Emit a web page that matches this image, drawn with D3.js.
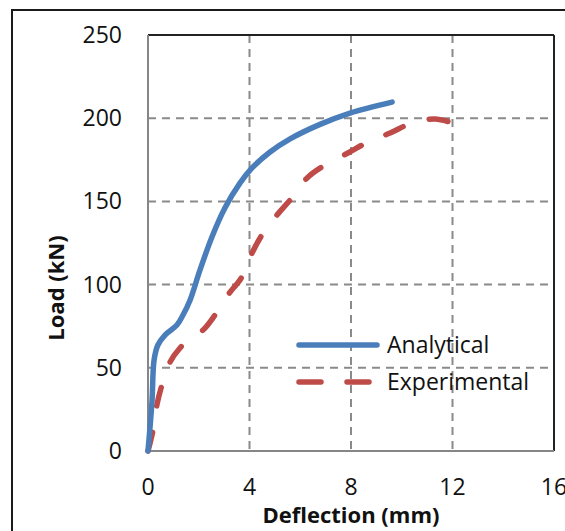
<!DOCTYPE html>
<html><head><meta charset="utf-8">
<script src="https://cdn.jsdelivr.net/npm/d3@7"></script>
<style>html,body{margin:0;padding:0;background:#fff;}svg{display:block;}</style>
</head><body>
<svg id="chart" width="565" height="531"></svg>
<script>
const analyticalX = [0, 0.08, 0.16, 0.24, 0.39, 0.67, 1.14, 1.38, 1.66, 2.05, 2.52, 3.03, 3.63, 4.10, 4.81, 5.60, 6.78, 7.96, 9.62];
const analyticalY = [0, 14.4, 30.6, 54.7, 63.7, 69.7, 75.7, 81.7, 90.8, 108.8, 128.6, 146.0, 161.1, 170.1, 179.7, 187.6, 196.3, 203.1, 209.7];
const experimentalX = [0, 0.20, 0.35, 0.55, 0.87, 1.26, 1.73, 2.17, 2.64, 3.15, 3.70, 4.10, 4.49, 5.08, 5.67, 6.27, 6.98, 7.88, 8.67, 9.54, 10.40, 11.31, 12.02];
const experimentalY = [0, 12.6, 27.6, 39.7, 53.5, 61.9, 68.5, 72.7, 81.7, 93.8, 104.6, 119.0, 129.8, 141.8, 152.1, 164.1, 171.9, 179.1, 185.7, 191.1, 197.1, 199.5, 197.1];
const xTicks = [0, 4, 8, 12, 16];
const yTicks = [0, 50, 100, 150, 200, 250];
const seriesNames = ["Analytical", "Experimental"];
const xTitle = "Deflection (mm)";
const yTitle = "Load (kN)";

const svg = d3.select("#chart");
const font = "'Open Sans', sans-serif";
const x = d3.scaleLinear().domain([0, 16]).range([148, 554]);
const y = d3.scaleLinear().domain([0, 250]).range([451, 35]);

// outer frame
svg.append("path").attr("d", "M12,531 L12,10 L565,10").attr("fill", "none").attr("stroke", "#1a1a1a").attr("stroke-width", 2);

// grid
const grid = svg.append("g").attr("stroke", "#8a8a8a").attr("stroke-width", 2).attr("stroke-dasharray", "8,6");
grid.selectAll("line.h").data(yTicks.filter(v => v > 0 && v < 250)).join("line")
  .attr("x1", x(0)).attr("x2", x(16)).attr("y1", d => y(d)).attr("y2", d => y(d));
grid.selectAll("line.v").data(xTicks.filter(v => v > 0 && v < 16)).join("line")
  .attr("y1", y(250)).attr("y2", y(0)).attr("x1", d => x(d)).attr("x2", d => x(d));

// plot borders
svg.append("line").attr("x1", x(0)).attr("x2", x(16)).attr("y1", y(250)).attr("y2", y(250)).attr("stroke", "#222").attr("stroke-width", 2);
svg.append("line").attr("x1", x(16)).attr("x2", x(16)).attr("y1", y(250)).attr("y2", y(0)).attr("stroke", "#222").attr("stroke-width", 2);
svg.append("line").attr("x1", x(0)).attr("x2", x(16)).attr("y1", y(0)).attr("y2", y(0)).attr("stroke", "#868686").attr("stroke-width", 2);
svg.append("line").attr("x1", x(0)).attr("x2", x(0)).attr("y1", y(250)).attr("y2", y(0)).attr("stroke", "#868686").attr("stroke-width", 2);

// tick labels
svg.selectAll("text.yt").data(yTicks).join("text")
  .attr("x", 122).attr("y", d => y(d) + 8).attr("text-anchor", "end")
  .attr("font-family", font).attr("font-size", 23).attr("fill", "#111").text(d => d);
svg.selectAll("text.xt").data(xTicks).join("text")
  .attr("x", d => x(d)).attr("y", 495).attr("text-anchor", "middle")
  .attr("font-family", font).attr("font-size", 23).attr("fill", "#111").text(d => d);

// titles
svg.append("text").attr("x", 351).attr("y", 523).attr("text-anchor", "middle")
  .attr("font-family", font).attr("font-weight", "bold").attr("font-size", 22).attr("fill", "#111").text(xTitle);
svg.append("text").attr("transform", "translate(64,288) rotate(-90)").attr("text-anchor", "middle")
  .attr("font-family", font).attr("font-weight", "bold").attr("font-size", 22).attr("fill", "#111").text(yTitle);

// series
const line = d3.line().x(d => x(d[0])).y(d => y(d[1])).curve(d3.curveCatmullRom.alpha(0.5));
const aData = analyticalX.map((v, i) => [v, analyticalY[i]]);
const eData = experimentalX.map((v, i) => [v, experimentalY[i]]);
svg.append("path").attr("d", line(eData)).attr("fill", "none").attr("stroke", "#BE4B48")
  .attr("stroke-width", 5.5).attr("stroke-linecap", "round").attr("stroke-dasharray", "19,27");
svg.append("path").attr("d", line(aData)).attr("fill", "none").attr("stroke", "#4A7EBB")
  .attr("stroke-width", 5.5).attr("stroke-linecap", "round");

// legend
const leg = svg.append("g");
leg.append("line").attr("x1", 299).attr("x2", 377).attr("y1", 345).attr("y2", 345)
  .attr("stroke", "#4A7EBB").attr("stroke-width", 5.5).attr("stroke-linecap", "round");
leg.append("line").attr("x1", 299).attr("x2", 377).attr("y1", 382).attr("y2", 382)
  .attr("stroke", "#BE4B48").attr("stroke-width", 5.5).attr("stroke-linecap", "round").attr("stroke-dasharray", "22,26");
leg.append("text").attr("x", 387).attr("y", 353).attr("font-family", font).attr("font-size", 23).attr("fill", "#111").text(seriesNames[0]);
leg.append("text").attr("x", 387).attr("y", 390).attr("font-family", font).attr("font-size", 23).attr("fill", "#111").text(seriesNames[1]);
</script>
</body></html>
